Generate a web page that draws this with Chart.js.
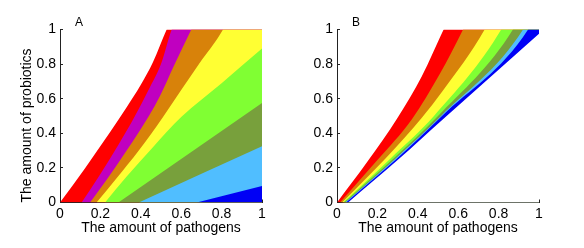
<!DOCTYPE html>
<html>
<head>
<meta charset="utf-8">
<script src="https://cdn.jsdelivr.net/npm/chart.js@4.4.0/dist/chart.umd.min.js"></script>
<style>
 html, body { margin: 0; padding: 0; background: #fff; }
 #wrap { position: relative; width: 584px; height: 248px; }
 .panel { position: absolute; top: 0; }
</style>
</head>
<body>
<div id="wrap">
 <canvas id="chartA" class="panel" style="left:0" width="292" height="248"></canvas>
 <canvas id="chartB" class="panel" style="left:292px" width="292" height="248"></canvas>
</div>
<script>
var tickLabels = ['0', '0.2', '0.4', '0.6', '0.8', '1'];

// band colours, upper-left band first
var bandColorsA = ['#ff0000', '#c000c0', '#d8820a', '#ffff33', '#80ff33', '#78a03c', '#50beff', '#0000f5'];
var bandColorsB = ['#ff0000', '#d8820a', '#ffff33', '#80ff33', '#78a03c', '#50beff', '#0000f5', '#ffffff'];

// panel A: upper edge of each band, [pathogens, probiotics]
var aRedEdge     = [[0,0],[0.125,0.2],[0.25,0.41],[0.33,0.55],[0.4,0.68],[0.46,0.81],[0.528,1]];
var aMagentaEdge = [[0.107,0],[0.2,0.165],[0.29,0.335],[0.371,0.5],[0.44,0.655],[0.5,0.8],[0.553,1]];
var aOrangeEdge  = [[0.149,0],[0.23,0.13],[0.33,0.3],[0.44,0.5],[0.495,0.615],[0.564,0.79],[0.65,1]];
var aYellowEdge  = [[0.181,0],[0.28,0.14],[0.39,0.3],[0.51,0.494],[0.6,0.65],[0.688,0.8],[0.807,1]];
var aGreenEdge   = [[0.223,0],[0.33,0.15],[0.46,0.32],[0.6,0.494],[0.8,0.69],[1,0.89]];
var aOliveEdge   = [[0.289,0],[1,0.575]];
var aSkyEdge     = [[0.39,0],[1,0.325]];
var aBlueEdge    = [[0.677,0],[1,0.095]];

// panel B
var bRedEdge    = [[0,0],[0.15,0.235],[0.3,0.49],[0.42,0.73],[0.528,1]];
var bOrangeEdge = [[0.015,0],[0.2,0.245],[0.37,0.48],[0.51,0.745],[0.624,1]];
var bYellowEdge = [[0.025,0],[0.24,0.255],[0.42,0.49],[0.52,0.64],[0.731,1]];
var bGreenEdge  = [[0.03,0],[0.265,0.255],[0.48,0.5],[0.813,1]];
var bOliveEdge  = [[0.035,0],[0.28,0.255],[0.5,0.5],[0.871,1]];
var bSkyEdge    = [[0.04,0],[0.29,0.255],[0.515,0.5],[0.921,1]];
var bBlueEdge   = [[0.045,0],[0.293,0.25],[0.52,0.5],[0.946,1]];
var bWhiteEdge  = [[0.055,0],[0.3,0.245],[0.533,0.49],[1,0.975]];

var FONT = '"Liberation Sans", Arial, sans-serif';

// each edge fills down to the axis, later edges painted over earlier ones
function bands(edges, colors){
	return edges.map(function(e, i){
		var pts = e.map(function(p){ return {x: p[0], y: p[1]}; });
		var last = e[e.length - 1];
		if(last[1] >= 1){
			// carry the edge past the top so the band closes along the frame
			pts.push({x: last[0] + 0.05, y: 1.12});
			pts.push({x: 1.3, y: 1.12});
		}
		return {
			data: pts,
			backgroundColor: colors[i],
			borderWidth: 0,
			pointRadius: 0,
			fill: 'start',
			cubicInterpolationMode: 'monotone',
			order: edges.length - i
		};
	});
}

var panelLetter = {
	id: 'panelLetter',
	afterDraw: function(chart, args, opts){
		var ctx = chart.ctx;
		ctx.save();
		ctx.font = '12px ' + FONT;
		ctx.fillStyle = '#000';
		ctx.fillText(opts.text, chart.chartArea.left + 15, 26);
		ctx.restore();
	}
};

function axis(pos, fitSize, titleText){
	var a = {
		type: 'linear',
		position: pos,
		min: 0, max: 1,
		z: 1,
		border: { display: true, color: '#222', width: 1 },
		grid: { drawOnChartArea: false, drawTicks: true, tickLength: -3, color: '#222' },
		ticks: {
			stepSize: 0.2,
			color: '#000',
			padding: pos == 'left' ? 7 : 6,
			font: { family: FONT, size: 14 },
			maxRotation: 0,
			callback: function(v, i){ return tickLabels[i]; }
		},
		title: { display: !!titleText, text: titleText || '', color: '#000', font: { family: FONT, size: 14 } },
		afterFit: function(scale){
			if(pos == 'left'){ scale.width = fitSize; }else{ scale.height = fitSize; }
		}
	};
	if(pos == 'left'){
		a.title.align = 'start';
		a.title.padding = { top: 19, bottom: 0 };
	}else{
		a.title.padding = { top: 0, bottom: 11.6 };
	}
	return a;
}

function makeChart(id, edges, colors, letter, yWidth, yTitle, padRight){
	return new Chart(document.getElementById(id), {
		type: 'line',
		data: { datasets: bands(edges, colors) },
		options: {
			responsive: false,
			animation: false,
			layout: { padding: { left: 0, right: padRight, top: 29.5, bottom: 0 } },
			plugins: {
				legend: { display: false },
				tooltip: { enabled: false },
				panelLetter: { text: letter }
			},
			scales: {
				x: axis('bottom', 45.5, 'The amount of pathogens'),
				y: axis('left', yWidth, yTitle)
			}
		},
		plugins: [panelLetter]
	});
}

makeChart('chartA',
	[aRedEdge, aMagentaEdge, aOrangeEdge, aYellowEdge, aGreenEdge, aOliveEdge, aSkyEdge, aBlueEdge],
	bandColorsA, 'A', 60, 'The amount of probiotics', 30);
makeChart('chartB',
	[bRedEdge, bOrangeEdge, bYellowEdge, bGreenEdge, bOliveEdge, bSkyEdge, bBlueEdge, bWhiteEdge],
	bandColorsB, 'B', 45, null, 45);
</script>
</body>
</html>
